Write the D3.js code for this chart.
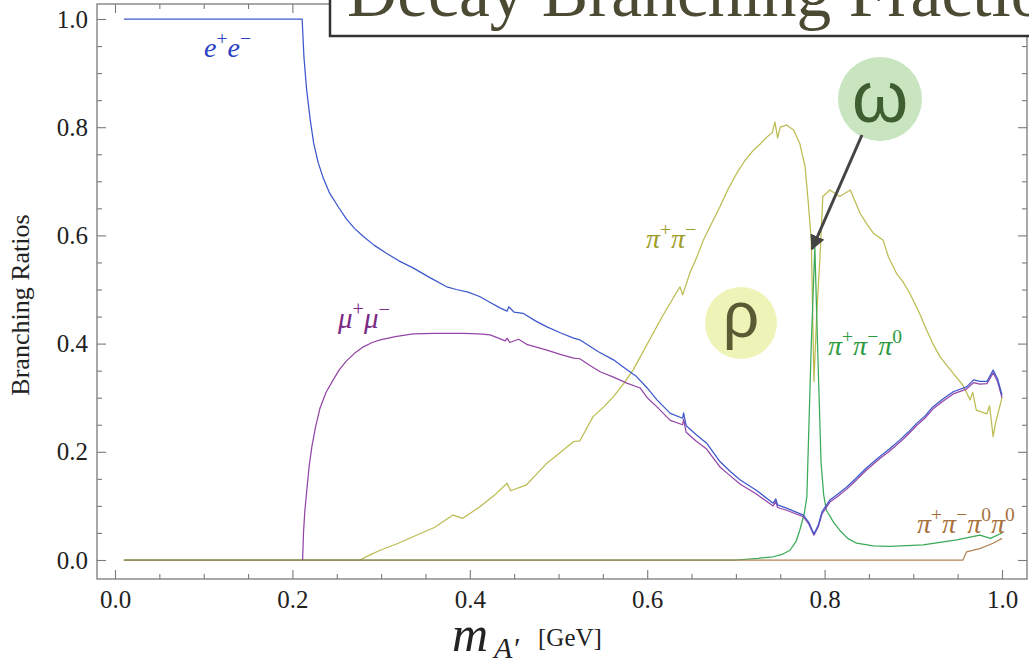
<!DOCTYPE html>
<html><head><meta charset="utf-8">
<script src="https://cdn.jsdelivr.net/npm/d3@7"></script>
<style>html,body{margin:0;padding:0;background:#fff;overflow:hidden}</style>
</head><body><svg id="c" width="1029" height="664"></svg>
<script>
// ---------- data (mass in GeV, branching ratio) ----------
const xTickLabels = [0.0, 0.2, 0.4, 0.6, 0.8, 1.0];
const yTickLabels = [0.0, 0.2, 0.4, 0.6, 0.8, 1.0];

const eeBR = [[0.01,1.0],[0.211,1.0],[0.213,0.93],[0.216,0.87],[0.22,0.815],[0.224,0.77],[0.229,0.735],[0.235,0.705],[0.242,0.678],[0.252,0.652],[0.261,0.63],[0.27,0.613],[0.28,0.598],[0.292,0.582],[0.306,0.567],[0.32,0.553],[0.336,0.54],[0.355,0.522],[0.374,0.505],[0.385,0.50],[0.398,0.495],[0.411,0.487],[0.422,0.477],[0.434,0.466],[0.442,0.46],[0.444,0.468],[0.45,0.458],[0.46,0.456],[0.474,0.442],[0.487,0.431],[0.502,0.42],[0.517,0.41],[0.524,0.407],[0.545,0.385],[0.562,0.37],[0.576,0.353],[0.588,0.339],[0.6,0.318],[0.611,0.296],[0.626,0.271],[0.64,0.262],[0.641,0.272],[0.644,0.248],[0.655,0.232],[0.667,0.216],[0.682,0.182],[0.694,0.163],[0.705,0.148],[0.723,0.129],[0.742,0.105],[0.745,0.113],[0.747,0.102],[0.757,0.096],[0.776,0.083],[0.782,0.07],[0.788,0.048],[0.793,0.065],[0.797,0.089],[0.806,0.111],[0.815,0.122],[0.825,0.135],[0.836,0.152],[0.847,0.17],[0.862,0.191],[0.873,0.205],[0.885,0.222],[0.894,0.236],[0.904,0.253],[0.913,0.266],[0.922,0.283],[0.933,0.297],[0.945,0.311],[0.96,0.32],[0.968,0.333],[0.975,0.33],[0.983,0.33],[0.99,0.351],[0.995,0.335],[1.0,0.305]];

const mumuBR = [[0.2115,0],[0.2125,0.05],[0.214,0.09],[0.216,0.125],[0.219,0.175],[0.222,0.21],[0.226,0.245],[0.231,0.28],[0.238,0.31],[0.246,0.333],[0.253,0.352],[0.261,0.368],[0.27,0.382],[0.28,0.394],[0.29,0.402],[0.299,0.407],[0.316,0.413],[0.336,0.418],[0.36,0.419],[0.393,0.419],[0.41,0.418],[0.423,0.416],[0.44,0.405],[0.442,0.41],[0.445,0.402],[0.455,0.408],[0.465,0.398],[0.476,0.393],[0.487,0.388],[0.502,0.38],[0.517,0.373],[0.524,0.372],[0.535,0.36],[0.547,0.348],[0.562,0.338],[0.577,0.327],[0.592,0.318],[0.6,0.30],[0.611,0.283],[0.626,0.258],[0.64,0.25],[0.641,0.26],[0.644,0.236],[0.655,0.22],[0.667,0.205],[0.682,0.172],[0.694,0.155],[0.705,0.14],[0.723,0.122],[0.742,0.1],[0.745,0.108],[0.747,0.097],[0.757,0.092],[0.776,0.08],[0.782,0.067],[0.788,0.046],[0.793,0.062],[0.797,0.085],[0.806,0.107],[0.815,0.118],[0.825,0.131],[0.836,0.148],[0.847,0.166],[0.862,0.187],[0.873,0.201],[0.885,0.218],[0.894,0.232],[0.904,0.249],[0.913,0.262],[0.922,0.279],[0.933,0.293],[0.945,0.307],[0.96,0.316],[0.968,0.328],[0.975,0.325],[0.983,0.326],[0.99,0.346],[0.995,0.33],[1.0,0.30]];

const pipiBR = [[0.01,0],[0.276,0],[0.288,0.01],[0.299,0.018],[0.318,0.03],[0.336,0.043],[0.36,0.06],[0.381,0.083],[0.392,0.077],[0.411,0.098],[0.428,0.12],[0.442,0.142],[0.446,0.128],[0.464,0.139],[0.476,0.16],[0.487,0.179],[0.503,0.2],[0.517,0.219],[0.524,0.22],[0.539,0.265],[0.551,0.283],[0.562,0.302],[0.573,0.325],[0.584,0.351],[0.592,0.375],[0.607,0.42],[0.617,0.45],[0.626,0.475],[0.637,0.505],[0.64,0.49],[0.648,0.53],[0.656,0.56],[0.663,0.59],[0.672,0.62],[0.682,0.653],[0.691,0.685],[0.701,0.715],[0.71,0.738],[0.72,0.758],[0.728,0.77],[0.735,0.782],[0.741,0.79],[0.744,0.81],[0.747,0.78],[0.75,0.80],[0.757,0.804],[0.765,0.795],[0.772,0.77],[0.778,0.727],[0.782,0.653],[0.785,0.59],[0.788,0.33],[0.791,0.45],[0.795,0.567],[0.798,0.672],[0.806,0.684],[0.817,0.672],[0.829,0.684],[0.84,0.641],[0.848,0.62],[0.855,0.604],[0.866,0.591],[0.872,0.56],[0.881,0.53],[0.888,0.515],[0.896,0.493],[0.907,0.456],[0.915,0.425],[0.922,0.4],[0.93,0.376],[0.945,0.345],[0.956,0.323],[0.964,0.296],[0.967,0.31],[0.971,0.277],[0.983,0.27],[0.986,0.285],[0.99,0.228],[0.993,0.255],[1.0,0.30]];

const pi3BR = [[0.01,0],[0.7,0],[0.725,0.003],[0.742,0.006],[0.753,0.011],[0.761,0.018],[0.768,0.035],[0.772,0.055],[0.777,0.085],[0.78,0.117],[0.785,0.4],[0.789,0.579],[0.792,0.4],[0.796,0.18],[0.799,0.12],[0.802,0.092],[0.81,0.07],[0.817,0.055],[0.826,0.04],[0.836,0.031],[0.855,0.026],[0.874,0.025],[0.911,0.028],[0.949,0.037],[0.975,0.046],[0.987,0.04],[1.0,0.05]];

const pi4BR = [[0.01,0],[0.956,0],[0.96,0.015],[0.975,0.021],[0.99,0.031],[1.0,0.04]];

const seriesNames = ["e+e-","mu+mu-","pi+pi-","pi+pi-pi0","pi+pi-pi0pi0"];
const titleText = "Decay Branching Fractions";
const yTitle = "Branching Ratios";

// ---------- layout ----------
const svg = d3.select("#c");
const x = d3.scaleLinear().domain([0,1]).range([115,1002]);
const y = d3.scaleLinear().domain([0,1]).range([560,19]);
const frame = {l:97, r:1027, t:4, b:579};
const serif = "'Liberation Serif','Times New Roman',serif";
const frameCol = "#7a7a7a";

const minor = d3.range(0, 1.0001, 0.05).filter(v => Math.abs(Math.round(v*5) - v*5) > 1e-6);

function styleAxis(g){
  g.select(".domain").remove();
  g.selectAll("line").attr("stroke", frameCol).attr("stroke-width", 1.1);
  g.selectAll("text").attr("font-family", serif).attr("font-size", 25).attr("fill", "#222");
}

// left
svg.append("g").attr("transform",`translate(${frame.l},0)`)
  .call(d3.axisLeft(y).tickValues(yTickLabels).tickSize(-9).tickPadding(9).tickFormat(d3.format(".1f"))).call(styleAxis);
svg.append("g").attr("transform",`translate(${frame.l},0)`)
  .call(d3.axisLeft(y).tickValues(minor).tickSize(-5).tickFormat("")).call(styleAxis);
// right
svg.append("g").attr("transform",`translate(${frame.r},0)`)
  .call(d3.axisRight(y).tickValues(yTickLabels).tickSize(-9).tickFormat("")).call(styleAxis);
svg.append("g").attr("transform",`translate(${frame.r},0)`)
  .call(d3.axisRight(y).tickValues(minor).tickSize(-5).tickFormat("")).call(styleAxis);
// bottom
svg.append("g").attr("transform",`translate(0,${frame.b})`)
  .call(d3.axisBottom(x).tickValues(xTickLabels).tickSize(-9).tickPadding(11).tickFormat(d3.format(".1f"))).call(styleAxis);
svg.append("g").attr("transform",`translate(0,${frame.b})`)
  .call(d3.axisBottom(x).tickValues(minor).tickSize(-5).tickFormat("")).call(styleAxis);
// top
svg.append("g").attr("transform",`translate(0,${frame.t})`)
  .call(d3.axisTop(x).tickValues(xTickLabels).tickSize(-9).tickFormat("")).call(styleAxis);
svg.append("g").attr("transform",`translate(0,${frame.t})`)
  .call(d3.axisTop(x).tickValues(minor).tickSize(-5).tickFormat("")).call(styleAxis);

svg.append("rect").attr("x",frame.l).attr("y",frame.t).attr("width",frame.r-frame.l).attr("height",frame.b-frame.t)
  .attr("fill","none").attr("stroke",frameCol).attr("stroke-width",1.3);

// ---------- curves ----------
const line = d3.line().x(d=>x(d[0])).y(d=>y(d[1]));
const curves = [
  {d:pipiBR, c:"#bcbc52"},
  {d:pi3BR, c:"#3aaa58"},
  {d:pi4BR, c:"#b08458"},
  {d:mumuBR, c:"#9446a6"},
  {d:eeBR, c:"#3d58cc"}
];
curves.forEach(s => {
  svg.append("path").attr("d", line(s.d)).attr("fill","none").attr("stroke",s.c)
    .attr("stroke-width",1.25).attr("stroke-linejoin","round");
});

// ---------- curve labels ----------
function label(xp, yp, parts, color, size){
  const t = svg.append("text").attr("x",xp).attr("y",yp).attr("font-family",serif)
    .attr("font-size",size).attr("fill",color);
  const up = size*0.42;
  parts.forEach(p => {
    t.append("tspan").attr("font-style","italic").attr("dy", p.first?0:up).text(p.b);
    t.append("tspan").attr("font-size", size*0.7).attr("dy", -up).text(p.s);
  });
}
label(204, 57, [{b:"e",s:"+",first:1},{b:"e",s:"−"}], "#2a3ec4", 28);
label(338, 328, [{b:"μ",s:"+",first:1},{b:"μ",s:"−"}], "#7a2a86", 29);
label(646, 248, [{b:"π",s:"+",first:1},{b:"π",s:"−"}], "#9d9d2c", 28);
label(828, 355, [{b:"π",s:"+",first:1},{b:"π",s:"−"},{b:"π",s:"0"}], "#2c9a3e", 28);
label(917, 533, [{b:"π",s:"+",first:1},{b:"π",s:"−"},{b:"π",s:"0"},{b:"π",s:"0"}], "#a8703c", 28);

// ---------- resonance bubbles ----------
svg.append("circle").attr("cx",741).attr("cy",323).attr("r",36).attr("fill","#eef4b8");
svg.append("text").attr("x",741).attr("y",337).attr("text-anchor","middle")
  .attr("font-family","'Liberation Sans',Arial,sans-serif").attr("font-size",64).attr("fill","#5a5a34").text("ρ");
svg.append("circle").attr("cx",880).attr("cy",99).attr("r",42).attr("fill","#c8e5bf");
svg.append("text").attr("x",880).attr("y",122).attr("text-anchor","middle")
  .attr("font-family","'Liberation Sans',Arial,sans-serif").attr("font-size",72).attr("fill","#3f5e30").text("ω");

// arrow
const defs = svg.append("defs");
defs.append("marker").attr("id","ah").attr("viewBox","0 0 10 10").attr("refX",9).attr("refY",5)
  .attr("markerWidth",5).attr("markerHeight",5).attr("orient","auto")
  .append("path").attr("d","M0,0L10,5L0,10z").attr("fill","#444");
svg.append("line").attr("x1",862).attr("y1",135).attr("x2",812).attr("y2",249)
  .attr("stroke","#444").attr("stroke-width",3).attr("marker-end","url(#ah)");

// ---------- axis titles ----------
svg.append("text").attr("transform","translate(29,305) rotate(-90)").attr("text-anchor","middle")
  .attr("font-family",serif).attr("font-size",26).attr("fill","#222").text(yTitle);

const xt = svg.append("text").attr("y",651).attr("font-family",serif).attr("fill","#222");
xt.append("tspan").attr("x",452).attr("font-style","italic").attr("font-size",50).text("m");
xt.append("tspan").attr("x",494).attr("y",658).attr("font-style","italic").attr("font-size",30).text("A′");
xt.append("tspan").attr("x",538).attr("y",646).attr("font-size",25).text("[GeV]");

// ---------- title box ----------
svg.append("rect").attr("x",330).attr("y",-10).attr("width",760).attr("height",46)
  .attr("fill","#fff").attr("stroke","#333").attr("stroke-width",2.5);
svg.append("text").attr("x",347).attr("y",16).attr("font-family",serif).attr("font-size",69.5)
  .attr("fill","#4b4a33").text(titleText);
</script></body></html>
